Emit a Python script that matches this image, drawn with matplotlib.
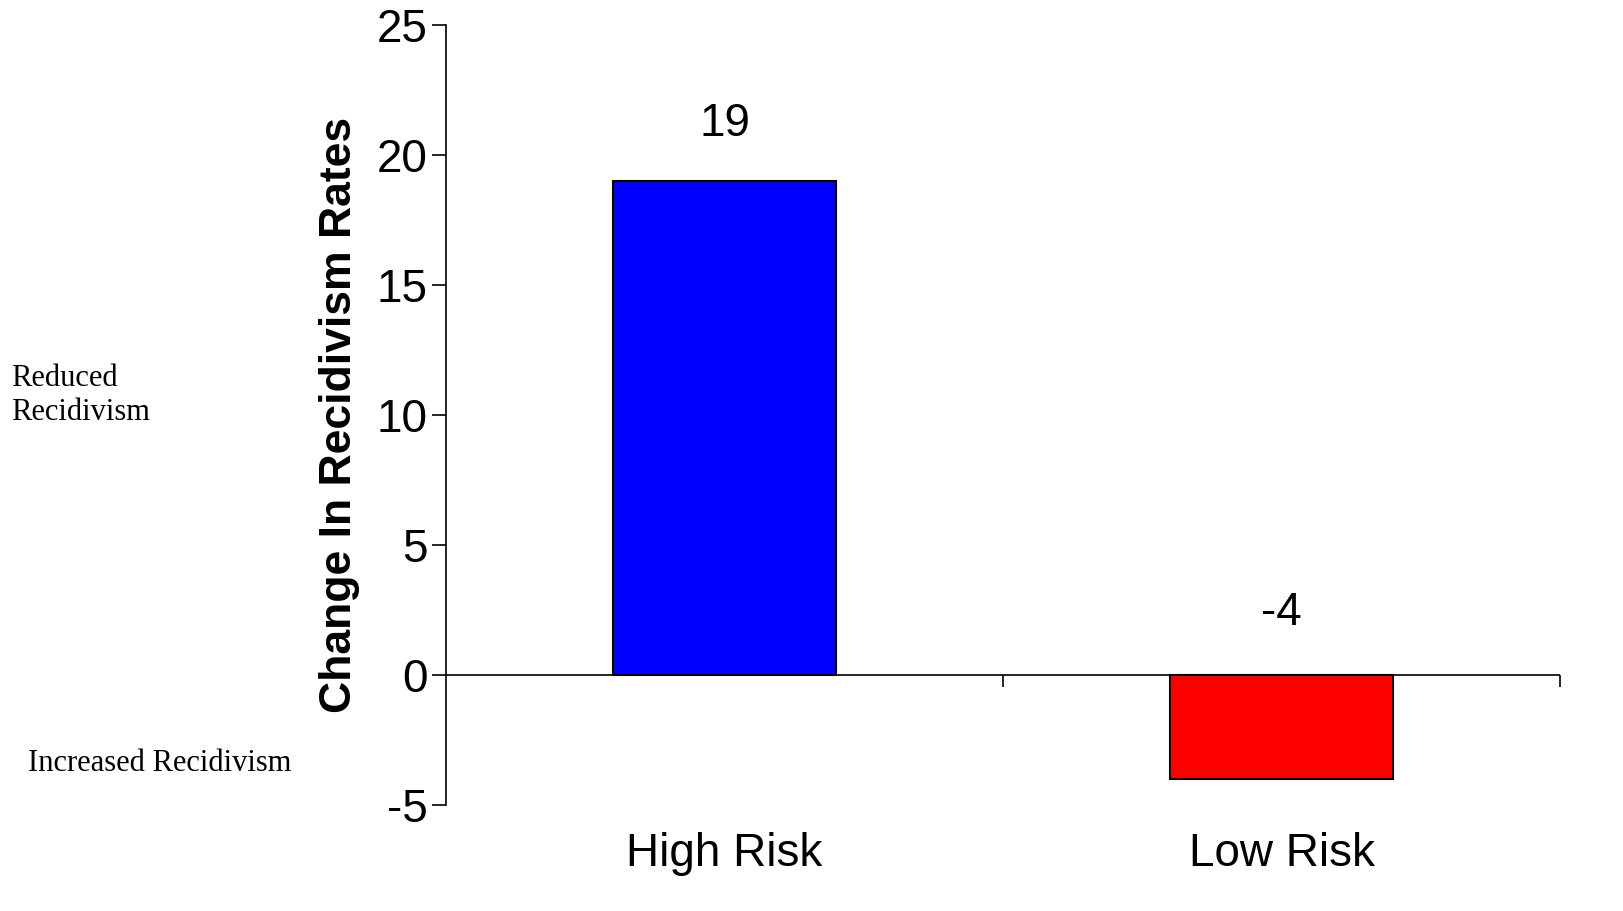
import matplotlib.pyplot as plt

categories = ['High Risk', 'Low Risk']
values = [19, -4]
colors = ['#0000ff', '#ff0000']
yticks = [-5, 0, 5, 10, 15, 20, 25]

plt.rcParams['font.family'] = ['Liberation Sans', 'DejaVu Sans']
plt.rcParams['axes.unicode_minus'] = False

fig = plt.figure(figsize=(16.23, 9.11), dpi=100)
ax = fig.add_axes([0.2748, 0.1164, 0.6864, 0.8562])

pos = [0.5, 1.5]
ax.bar(pos, values, width=0.4, color=colors, edgecolor='black', linewidth=1.5, zorder=3)
for x, v in zip(pos, values):
    ax.text(x, 21.2 if v > 0 else 2.4, str(v), ha='center', va='center', fontsize=33)

ax.set_xlim(0, 2)
ax.set_ylim(-5, 25)
ax.set_yticks(yticks)
ax.tick_params(axis='y', labelsize=33, length=10, width=1.2, direction='out')
for s in ['top', 'right', 'bottom']:
    ax.spines[s].set_visible(False)
ax.spines['left'].set_linewidth(1.2)
ax.axhline(0, color='black', linewidth=1.2, zorder=4)
ax.vlines([1, 2], -0.45, 0, color='black', linewidth=1.2, clip_on=False)
ax.set_xticks([])
for x, c in zip(pos, categories):
    ax.text(x, -6.9, c, ha='center', va='center', fontsize=33)

ax.set_ylabel('Change In Recidivism Rates', fontsize=32, fontweight='bold', labelpad=12)

fig.text(0.007, 0.566, 'Reduced\nRecidivism', family='Liberation Serif', fontsize=22,
         va='center', ha='left', linespacing=1.25)
fig.text(0.017, 0.162, 'Increased Recidivism', family='Liberation Serif', fontsize=22,
         va='center', ha='left')

fig.savefig('out.png', dpi=100)
